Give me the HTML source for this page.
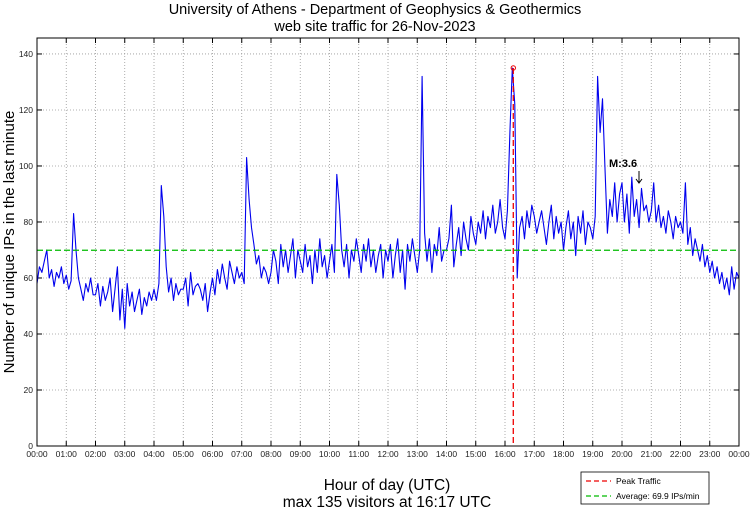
<!DOCTYPE html>
<html><head><meta charset="utf-8"><style>
html,body{margin:0;padding:0;background:#fff;}
svg text{font-family:"Liberation Sans",sans-serif;}
</style></head><body>
<svg id="chart" width="750" height="511" viewBox="0 0 750 511" xmlns="http://www.w3.org/2000/svg">
<rect width="750" height="511" fill="#fff"/>
<text x="375" y="14" font-size="14.5" text-anchor="middle">University of Athens - Department of Geophysics &amp; Geothermics</text>
<text x="375" y="31" font-size="14.5" text-anchor="middle">web site traffic for 26-Nov-2023</text>
<g id="grid"></g>
<g id="ticks"></g>
<g id="series"></g>
<rect x="37" y="38" width="702" height="408" fill="none" stroke="#000" stroke-width="1"/>
<text transform="translate(14,242) rotate(-90)" font-size="15" text-anchor="middle">Number of unique IPs in the last minute</text>
<text x="387" y="490" font-size="15.5" text-anchor="middle">Hour of day (UTC)</text>
<text x="387" y="507" font-size="15.5" text-anchor="middle">max 135 visitors at 16:17 UTC</text>
<text x="609" y="167" font-size="11" font-weight="bold">M:3.6</text>
<g stroke="#000" stroke-width="1" fill="none">
<line x1="639" y1="171" x2="639" y2="183"/><polyline points="636,179 639,183 642,179"/></g>
<g>
<rect x="581" y="472" width="128" height="32" fill="#fff" stroke="#000" stroke-width="0.8"/>
<line x1="586" y1="481" x2="611" y2="481" stroke="#e00" stroke-width="1.2" stroke-dasharray="5,3"/>
<text x="616" y="484" font-size="8.5">Peak Traffic</text>
<line x1="586" y1="496" x2="611" y2="496" stroke="#0b0" stroke-width="1.2" stroke-dasharray="5,3"/>
<text x="616" y="499" font-size="8.5">Average: 69.9 IPs/min</text>
</g>
</svg>
<script>
const visits = [
58,64,62,66,70,60,63,57,62,60,64,58,
61,56,59,83,70,60,56,52,58,55,60,54,
54,58,50,57,52,55,60,48,56,64,45,56,
42,58,50,55,48,52,56,47,53,50,55,52,
56,52,58,93,82,64,55,60,52,58,54,56,
56,60,50,62,54,57,58,56,52,58,48,55,
60,54,63,58,65,60,56,66,62,58,64,60,
62,58,103,88,78,72,65,68,60,64,62,58,
62,70,66,58,72,64,70,62,68,74,60,70,
66,62,72,64,68,58,70,62,74,64,68,60,
66,72,62,97,86,70,64,72,60,70,66,74,
68,62,72,66,74,64,70,62,68,72,60,70,
66,72,60,68,74,62,70,56,72,66,74,68,
62,70,132,76,66,74,62,72,68,78,66,70,
70,74,86,64,72,78,68,80,74,70,82,76,
72,80,76,84,74,82,78,86,76,80,88,78,
74,84,112,135,122,60,78,82,74,84,78,86,
82,76,80,84,78,72,80,86,74,82,76,80,
70,78,84,74,80,68,82,76,84,72,80,78,
74,82,132,112,124,100,76,88,82,94,80,90,
94,80,90,76,96,82,88,78,92,84,86,80,
84,94,80,86,78,82,76,84,80,74,82,78,
80,76,94,72,78,68,74,70,66,72,64,68,
62,66,60,64,58,62,56,60,54,64,56,62,
60];
const sampleMinutes = 5;
const yTicks = [0,20,40,60,80,100,120,140];
const xTickLabels = ["00:00","01:00","02:00","03:00","04:00","05:00","06:00","07:00","08:00","09:00","10:00","11:00","12:00","13:00","14:00","15:00","16:00","17:00","18:00","19:00","20:00","21:00","22:00","23:00","00:00"];
const peakValue = [135];
const peakMinute = [16*60+17];
const averageValue = [69.9];

const X0=37, X1=739, Y0=446, Y1=38, YMAX=145.7;
const xs = m => X0 + m/1440*(X1-X0);
const ys = v => Y0 - v/YMAX*(Y0-Y1);
const NS="http://www.w3.org/2000/svg";
function mk(tag, attrs, parent){const e=document.createElementNS(NS,tag);for(const k in attrs)e.setAttribute(k,attrs[k]);parent.appendChild(e);return e;}
const grid=document.getElementById('grid'), ticks=document.getElementById('ticks'), series=document.getElementById('series');

yTicks.forEach(v=>{
  const y=ys(v);
  if(v>0){const l=mk('line',{x1:X0,x2:X1,y1:y,y2:y,stroke:'#999','stroke-width':0.8,'stroke-dasharray':'1,2'},grid);
  
  }
  const t=mk('line',{x1:X0,x2:X0+5,y1:y,y2:y,stroke:'#000'},ticks);
  
  
  const tt=mk('line',{x1:X1-5,x2:X1,y1:y,y2:y,stroke:'#000'},ticks);
  
  
  const lb=mk('text',{x:X0-4,y:y+3,'font-size':8.5,'text-anchor':'end',fill:'#222'},ticks);
  lb.textContent=v;
  
  
});
xTickLabels.forEach((s,i)=>{
  const x=xs(i*60);
  if(i>0&&i<24){const l=mk('line',{x1:x,x2:x,y1:Y1,y2:Y0,stroke:'#999','stroke-width':0.8,'stroke-dasharray':'1,2'},grid);
  
  }
  const t=mk('line',{x1:x,x2:x,y1:Y0-5,y2:Y0,stroke:'#000'},ticks);
  
  
  const tt=mk('line',{x1:x,x2:x,y1:Y1,y2:Y1+5,stroke:'#000'},ticks);
  
  
  const lb=mk('text',{x:x,y:Y0+11,'font-size':8.5,'text-anchor':'middle',fill:'#222'},ticks);
  lb.textContent=s;
  
  
});
const pts=visits.map((v,i)=>xs(i*sampleMinutes).toFixed(1)+','+ys(v).toFixed(1)).join(' ');
const pl=mk('polyline',{points:pts,fill:'none',stroke:'#0000ee','stroke-width':1.1,'stroke-linejoin':'round'},series);


const av=mk('line',{x1:X0,x2:X1,y1:ys(averageValue[0]),y2:ys(averageValue[0]),stroke:'#0b0','stroke-width':1.3,'stroke-dasharray':'6,3'},series);


const px=xs(peakMinute[0]);
const pk=mk('line',{x1:px,x2:px,y1:ys(peakValue[0]),y2:Y0,stroke:'#e00','stroke-width':1.3,'stroke-dasharray':'6,3'},series);


const pc=mk('circle',{cx:px,cy:ys(peakValue[0]),r:2.2,fill:'none',stroke:'#e00','stroke-width':1},series);


</script>
</body></html>
